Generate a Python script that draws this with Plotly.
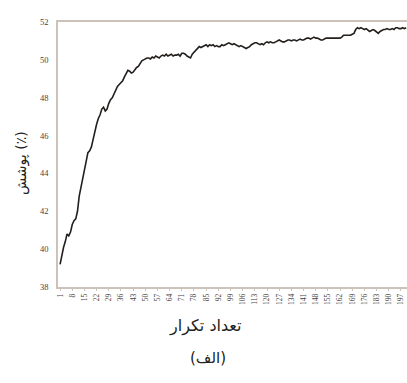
import plotly.graph_objects as go

iterations = list(range(1, 201))
coverage = [
    39.2, 39.7, 40.1, 40.4, 40.8, 40.7, 40.9, 41.3, 41.5, 41.6,
    42.0, 42.8, 43.3, 43.8, 44.3, 44.6, 45.1, 45.2, 45.4, 45.8,
    46.3, 46.6, 46.9, 47.1, 47.4, 47.5, 47.3, 47.4, 47.7, 47.9,
    48.0, 48.2, 48.4, 48.6, 48.7, 48.8, 48.9, 49.1, 49.3, 49.45,
    49.4, 49.3, 49.35, 49.5, 49.6, 49.65, 49.8, 49.95, 50.0, 50.05,
    50.1, 50.1, 50.05, 50.15, 50.1, 50.2, 50.15, 50.1, 50.2, 50.25,
    50.2, 50.3, 50.2, 50.25, 50.3, 50.2, 50.25, 50.25, 50.3, 50.2,
    50.35, 50.35, 50.3, 50.2, 50.15, 50.1, 50.3, 50.4, 50.45, 50.6,
    50.7, 50.65, 50.7, 50.75, 50.8, 50.7, 50.8, 50.75, 50.8, 50.7,
    50.75, 50.7, 50.7, 50.8, 50.75, 50.8, 50.85, 50.9, 50.85, 50.8,
    50.85, 50.8, 50.75, 50.7, 50.75, 50.7, 50.65, 50.6, 50.65, 50.7,
    50.8, 50.85, 50.9, 50.9, 50.85, 50.8, 50.85, 50.8, 50.9, 50.95,
    50.9, 50.95, 50.9, 50.9, 50.95, 51.0, 51.05, 51.0, 50.95, 50.95,
    51.0, 51.05, 51.05, 51.0, 51.05, 51.05, 51.0, 51.05, 51.1, 51.05,
    51.05, 51.1, 51.15, 51.15, 51.1, 51.15, 51.2, 51.15, 51.15, 51.1,
    51.05, 51.05, 51.1, 51.15, 51.15, 51.15, 51.15, 51.15, 51.15, 51.15,
    51.15, 51.15, 51.2, 51.3, 51.3, 51.3, 51.3, 51.3, 51.35, 51.4,
    51.6, 51.7, 51.65, 51.7, 51.65, 51.6, 51.65, 51.55, 51.5, 51.55,
    51.6, 51.55, 51.45, 51.4, 51.5, 51.55, 51.6, 51.6, 51.65, 51.6,
    51.6, 51.65, 51.6, 51.7, 51.7, 51.65, 51.65, 51.7, 51.65, 51.7,
]
x_ticks = list(range(1, 201, 7))
y_ticks = [38, 40, 42, 44, 46, 48, 50, 52]

x_title = "تعداد تکرار"
y_title = "پوشش (٪)"
caption = "(الف)"

axis_color = "#cbc3ba"
serif = "Liberation Serif, Times New Roman, serif"

fig = go.Figure()
fig.add_trace(go.Scatter(
    x=iterations, y=coverage, mode="lines",
    line=dict(color="#231f1d", width=1.6),
    showlegend=False,
))

fig.update_layout(
    width=407, height=383,
    margin=dict(l=58, r=0, t=22, b=96),
    paper_bgcolor="white", plot_bgcolor="white",
    font=dict(family=serif, color="#444"),
    xaxis=dict(
        range=[-0.2, 200.5],
        tickmode="array", tickvals=x_ticks, ticktext=[str(v) for v in x_ticks],
        tickangle=-90, tickfont=dict(size=7.5, family=serif, color="#444"),
        showgrid=False, zeroline=False,
        showline=True, linecolor=axis_color, linewidth=1.5, mirror=True,
        ticks="outside", ticklen=2, tickcolor=axis_color,
    ),
    yaxis=dict(
        range=[38, 52],
        tickmode="array", tickvals=y_ticks,
        tickfont=dict(size=8.5, family=serif, color="#444"),
        showgrid=False, zeroline=False,
        showline=True, linecolor=axis_color, linewidth=1.5,
        ticks="", ticklabelstandoff=6,
    ),
    annotations=[
        dict(text=y_title, textangle=-90, xref="paper", yref="paper",
             x=(21 - 58) / 349, y=(287 - 163) / 265, xanchor="center", yanchor="middle",
             showarrow=False, font=dict(size=14, family="DejaVu Sans", color="#222")),
        dict(text=x_title, xref="paper", yref="paper",
             x=(205 - 58) / 349, y=(287 - 326) / 265, xanchor="center", yanchor="middle",
             showarrow=False, font=dict(size=16, family="DejaVu Sans", color="#1e1e1e")),
        dict(text=caption, xref="paper", yref="paper",
             x=(208 - 58) / 349, y=(287 - 358) / 265, xanchor="center", yanchor="middle",
             showarrow=False, font=dict(size=15, family="DejaVu Sans", color="#222")),
    ],
)

fig.write_html("out.html")
